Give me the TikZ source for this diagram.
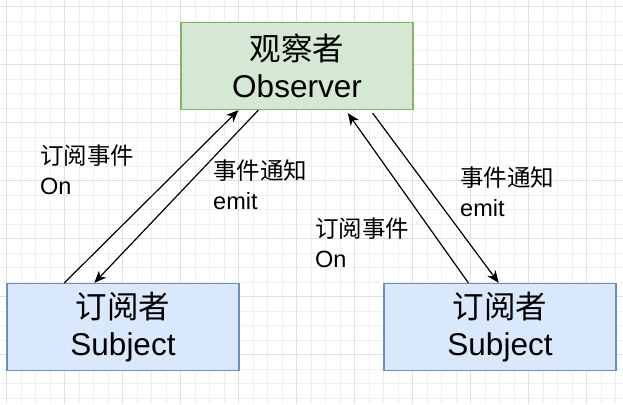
\documentclass[tikz,border=0pt]{standalone}
\usepackage{fontspec}
\setmainfont{Liberation Sans}
\newfontfamily\cjk{Noto Sans CJK SC}
\usetikzlibrary{arrows.meta,calc}
\definecolor{obsfill}{HTML}{D5E8D4}
\definecolor{obsline}{HTML}{82B366}
\definecolor{subfill}{HTML}{DAE8FC}
\definecolor{subline}{HTML}{6C8EBF}
\definecolor{gridminor}{HTML}{EFEFEF}
\definecolor{gridmajor}{HTML}{E0E0E0}
\begin{document}
\begin{tikzpicture}[x=1pt,y=-1pt,
  box/.style={draw, line width=1.3pt, minimum width=232pt, minimum height=87pt, inner sep=0pt, align=center, font=\fontsize{31.5}{37}\selectfont},
  obsbox/.style={box, fill=obsfill, draw=obsline},
  subbox/.style={box, fill=subfill, draw=subline},
  lbl/.style={anchor=west, align=left, inner sep=0pt, font=\fontsize{23.5}{30}\selectfont},
  conn/.style={line width=1.2pt, -{Stealth[length=12pt,width=10pt,inset=3.5pt]}},
  gmin/.style={draw=gridminor, line width=1pt},
  gmaj/.style={draw=gridmajor, line width=1pt}
]
\useasboundingbox (0,0) rectangle (623,404);
\fill[white] (0,0) rectangle (623,404);
% grid
\foreach \i in {0,...,43} { \draw[gmin] ({6.7+14.5*\i},0) -- ({6.7+14.5*\i},404); }
\foreach \i in {0,...,27} { \draw[gmin] (0,{6.7+14.5*\i}) -- (623,{6.7+14.5*\i}); }
\foreach \i in {0,...,10} { \draw[gmaj] ({6.7+58*\i},0) -- ({6.7+58*\i},404); }
\foreach \i in {0,...,6} { \draw[gmaj] (0,{6.7+58*\i}) -- (623,{6.7+58*\i}); }

% boxes
\node[obsbox] (obs) at (297,66) {{\cjk 观察者}\\Observer};
\node[subbox] (subL) at (123,327) {{\cjk 订阅者}\\Subject};
\node[subbox] (subR) at (500,327) {{\cjk 订阅者}\\Subject};

% connectors
\draw[conn] ([xshift=58pt]subL.north west) -- ([xshift=58pt]obs.south west);
\draw[conn] ([xshift=78pt]obs.south west) -- ([xshift=88pt]subL.north west);
\draw[conn] ([xshift=85pt]subR.north west) -- ([xshift=167.5pt,yshift=-3pt]obs.south west);
\draw[conn] ([xshift=192.3pt,yshift=-3pt]obs.south west) -- ([xshift=115.3pt]subR.north west);

% labels
\node[lbl] (l1) at (40,170) {{\cjk 订阅事件}\\On};
\node[lbl] (l2) at (213,185) {{\cjk 事件通知}\\emit};
\node[lbl] (r1) at (460,192) {{\cjk 事件通知}\\emit};
\node[lbl] (r2) at (315,243) {{\cjk 订阅事件}\\On};
\end{tikzpicture}
\end{document}
